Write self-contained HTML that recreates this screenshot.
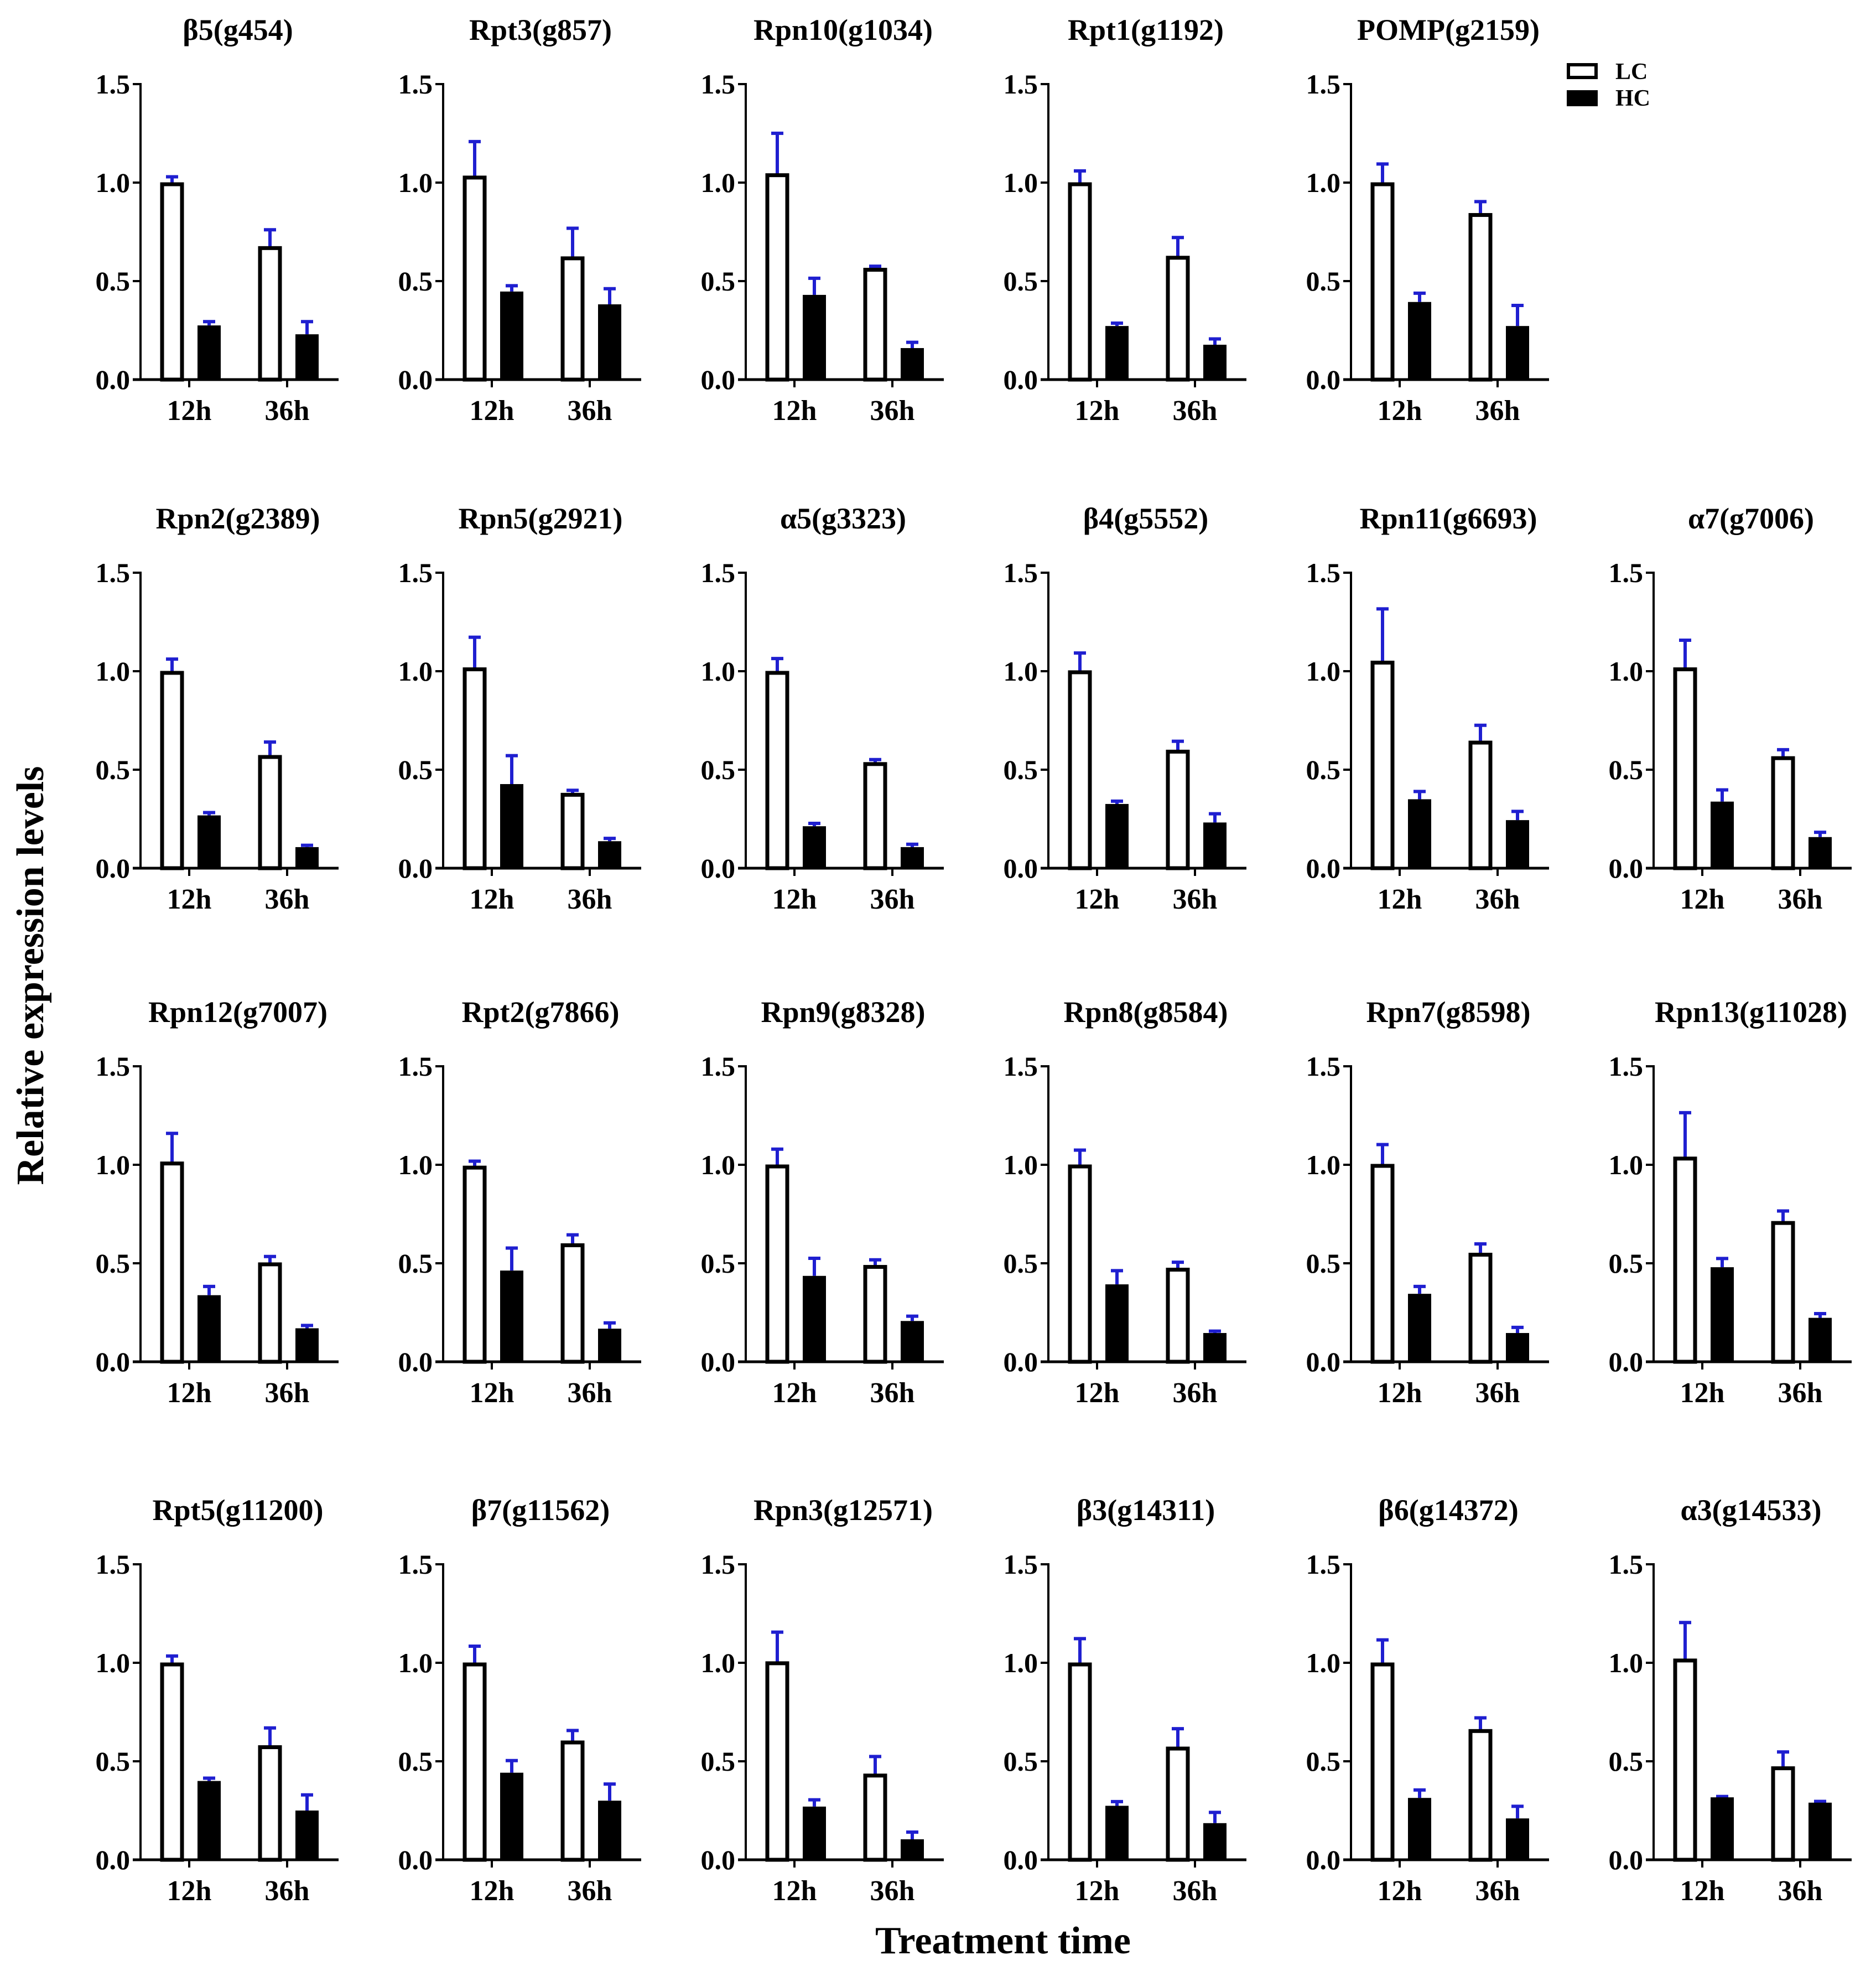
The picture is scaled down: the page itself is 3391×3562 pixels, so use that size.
<!DOCTYPE html>
<html><head><meta charset="utf-8"><style>
html,body{margin:0;padding:0;background:#fff;}
svg{display:block;}
svg text{font-family:"Liberation Serif","Times New Roman","DejaVu Serif",serif;font-weight:bold;}
</style></head><body>
<svg id="fig" width="3391" height="3562" viewBox="0 0 3391 3562" xmlns="http://www.w3.org/2000/svg" font-family="Liberation Serif, serif" font-weight="bold">
<rect width="3391" height="3562" fill="#fff"/>
<text x="0" y="0" transform="translate(78,1763) rotate(-90)" text-anchor="middle" font-size="70" font-family="Liberation Serif, serif">Relative expression levels</text>
<text x="1813" y="3530" text-anchor="middle" font-size="70" font-family="Liberation Serif, serif">Treatment time</text>
<g>
<rect x="2835" y="117" width="50" height="23" fill="#fff" stroke="#000" stroke-width="6"/>
<text x="2920" y="143" font-size="42" font-family="Liberation Serif, serif">LC</text>
<rect x="2832" y="163" width="56" height="29" fill="#000"/>
<text x="2920" y="191" font-size="42" font-family="Liberation Serif, serif">HC</text>
</g>
</svg>
<script>
const titles=["β5(g454)","Rpt3(g857)","Rpn10(g1034)","Rpt1(g1192)","POMP(g2159)",
"Rpn2(g2389)","Rpn5(g2921)","α5(g3323)","β4(g5552)","Rpn11(g6693)","α7(g7006)",
"Rpn12(g7007)","Rpt2(g7866)","Rpn9(g8328)","Rpn8(g8584)","Rpn7(g8598)","Rpn13(g11028)",
"Rpt5(g11200)","β7(g11562)","Rpn3(g12571)","β3(g14311)","β6(g14372)","α3(g14533)"];
const categories=["12h","36h"];
const yTicks=[0,0.5,1.0,1.5];
const yTickLabels=["0.0","0.5","1.0","1.5"];
// [12h, 36h] per panel
const lcValues=[[1.0,0.676],[1.034,0.624],[1.046,0.566],[1.0,0.627],[1.0,0.844],
[1.0,0.573],[1.018,0.381],[1.0,0.537],[1.003,0.6],[1.052,0.646],[1.018,0.567],
[1.015,0.503],[0.994,0.6],[1.0,0.49],[1.0,0.476],[1.003,0.552],[1.04,0.713],
[1.0,0.58],[1.0,0.604],[1.006,0.436],[1.0,0.573],[1.0,0.662],[1.02,0.473]];
const hcValues=[[0.275,0.23],[0.447,0.382],[0.43,0.16],[0.272,0.177],[0.394,0.272],
[0.268,0.107],[0.427,0.137],[0.213,0.107],[0.326,0.232],[0.35,0.244],[0.338,0.158],
[0.338,0.17],[0.463,0.168],[0.436,0.207],[0.393,0.146],[0.345,0.146],[0.48,0.223],
[0.4,0.25],[0.442,0.3],[0.27,0.104],[0.274,0.186],[0.314,0.21],[0.317,0.29]];
const lcErrors=[[0.035,0.09],[0.18,0.15],[0.21,0.015],[0.065,0.1],[0.1,0.065],
[0.067,0.073],[0.16,0.02],[0.07,0.02],[0.095,0.05],[0.27,0.085],[0.145,0.04],
[0.15,0.037],[0.03,0.05],[0.085,0.033],[0.08,0.035],[0.105,0.052],[0.23,0.058],
[0.04,0.095],[0.09,0.058],[0.155,0.094],[0.128,0.098],[0.122,0.064],[0.19,0.08]];
const hcErrors=[[0.025,0.07],[0.035,0.085],[0.09,0.035],[0.02,0.035],[0.05,0.11],
[0.02,0.015],[0.15,0.02],[0.02,0.02],[0.02,0.05],[0.045,0.05],[0.065,0.03],
[0.05,0.02],[0.12,0.035],[0.095,0.03],[0.075,0.015],[0.043,0.034],[0.05,0.027],
[0.02,0.085],[0.067,0.09],[0.04,0.042],[0.027,0.06],[0.046,0.067],[0.01,0.012]];

const NS="http://www.w3.org/2000/svg";
const svg=document.getElementById('fig');
const rowBottoms=[686,1569,2461,3361];
const PH=534, YMAX=1.5, BW=42;
const FF="Liberation Serif, Times New Roman, serif";
function mk(tag,attrs,parent){const e=document.createElementNS(NS,tag);for(const k in attrs)e.setAttribute(k,attrs[k]);parent.appendChild(e);return e;}
function slotOf(i){ if(i<5) return [0,i]; const j=i-5; return [1+Math.floor(j/6), j%6]; }
titles.forEach((t,i)=>{
  const [r,c]=slotOf(i);
  const ax=254+547*c, bot=rowBottoms[r];
  const y=v=>bot-v/YMAX*PH;
  const xTick=k=>ax+88+177*k;
  const g=mk('g',{},svg);
  
  
  const tt=mk('text',{x:ax+176,y:bot-614,'text-anchor':'middle','font-size':54,'font-family':FF},g);
  
  
  tt.textContent=t;
  categories.forEach((cat,k)=>{
    const cx=xTick(k);
    const lv=lcValues[i][k], hv=hcValues[i][k];
    const le=lcErrors[i][k], he=hcErrors[i][k];
    const lx=cx-31, hx=cx+36;
    [[lx,lv,le,'lc'],[hx,hv,he,'hc']].forEach(([bx,v,e,s])=>{
      const eg=mk('g',{stroke:'#1f1fd0','stroke-width':6},g);
      
      
      mk('line',{x1:bx,x2:bx,y1:y(v),y2:y(v+e)},eg);
      mk('line',{x1:bx-11,x2:bx+11,y1:y(v+e)+2,y2:y(v+e)+2},eg);
    });
    const lb=mk('rect',{x:lx-BW/2+3,y:y(lv)+3,width:BW-6,height:Math.max(0,y(0)-y(lv)-3),fill:'#fff',stroke:'#000','stroke-width':7},g);
    
    
    const hb=mk('rect',{x:hx-BW/2,y:y(hv),width:BW,height:y(0)-y(hv),fill:'#000'},g);
    
    
    const xl=mk('text',{x:cx,y:bot+73,'text-anchor':'middle','font-size':52,'font-family':FF},g);
    
    
    xl.textContent=cat;
    mk('line',{x1:cx,x2:cx,y1:bot,y2:bot+14,stroke:'#000','stroke-width':4},g);
  });
  const ya=mk('line',{x1:ax,x2:ax,y1:y(YMAX)-2,y2:bot+2,stroke:'#000','stroke-width':4},g);
  
  
  const xa=mk('line',{x1:ax-14,x2:ax+358,y1:bot,y2:bot,stroke:'#000','stroke-width':5},g);
  
  
  yTicks.forEach((v,k)=>{
    mk('line',{x1:ax-14,x2:ax,y1:y(v),y2:y(v),stroke:'#000','stroke-width':4},g);
    const tl=mk('text',{x:ax-19,y:y(v)+17,'text-anchor':'end','font-size':50,'font-family':FF},g);
    
    
    tl.textContent=yTickLabels[k];
  });
});
</script>
</body></html>
